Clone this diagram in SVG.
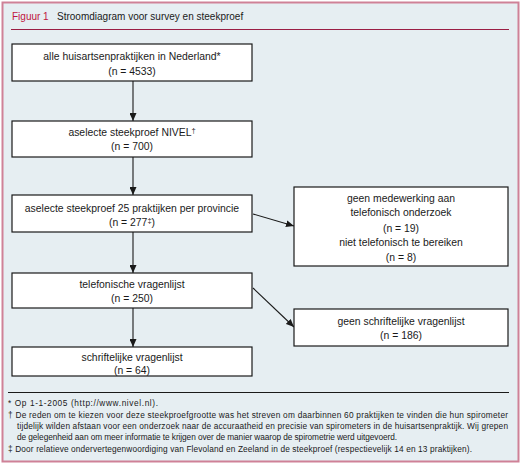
<svg xmlns="http://www.w3.org/2000/svg" width="522" height="465" viewBox="0 0 522 465">
<style>
.bx{fill:#ffffff;stroke:#1a1a1a;stroke-width:1.2}
.t{font-family:"Liberation Sans",Arial,sans-serif;font-size:10.4px;fill:#1a1a1a;text-anchor:middle}
.f{font-family:"Liberation Sans",Arial,sans-serif;font-size:8.3px;fill:#1a1a1a}
.h{font-family:"Liberation Sans",Arial,sans-serif;font-size:10px}
.c{stroke:#1a1a1a;stroke-width:1.1;fill:none}
</style>
<defs>
<marker id="ah" viewBox="0 0 10 10" refX="10" refY="5" markerWidth="8" markerHeight="7" markerUnits="userSpaceOnUse" orient="auto" preserveAspectRatio="none">
<path d="M0,0 L10,5 L0,10 z" fill="#1a1a1a"/>
</marker>
</defs>
<rect x="0" y="0" width="522" height="465" fill="#ffffff"/>
<rect x="2.5" y="2.5" width="516" height="459" fill="#e6eef2" stroke="#cf8197" stroke-width="2"/>
<g id="title">
<text class="h" x="12" y="20" fill="#c01540">Figuur 1</text>
<text class="h" x="57" y="20" fill="#1a1a1a">Stroomdiagram voor survey en steekproef</text>
<line x1="11" y1="29.5" x2="509" y2="29.5" stroke="#9a1e44" stroke-width="1"/>
</g>
<g id="connectors">
<line class="c" x1="133" y1="81" x2="133" y2="121" marker-end="url(#ah)"/>
<line class="c" x1="133" y1="157" x2="133" y2="195" marker-end="url(#ah)"/>
<line class="c" x1="133" y1="232" x2="133" y2="273" marker-end="url(#ah)"/>
<line class="c" x1="133" y1="308" x2="133" y2="347" marker-end="url(#ah)"/>
<line class="c" x1="253" y1="214" x2="294" y2="226" marker-end="url(#ah)"/>
<line class="c" x1="253" y1="288" x2="294" y2="327" marker-end="url(#ah)"/>
</g>
<g id="n1">
<rect class="bx" x="12" y="44" width="240" height="37"/>
<text class="t" x="132" y="60">alle huisartsenpraktijken in Nederland*</text>
<text class="t" x="132" y="75">(n = 4533)</text>
</g>
<g id="n2">
<rect class="bx" x="12" y="121" width="240" height="36"/>
<text class="t" x="132" y="136">aselecte steekproef NIVEL<tspan dy="-3.5" font-size="7.5">†</tspan></text>
<text class="t" x="132" y="150">(n = 700)</text>
</g>
<g id="n3">
<rect class="bx" x="12" y="195" width="240" height="37"/>
<text class="t" x="132" y="211.5">aselecte steekproef 25 praktijken per provincie</text>
<text class="t" x="132" y="226">(n = 277<tspan dy="-3.5" font-size="7.5">‡</tspan><tspan dy="3.5">)</tspan></text>
</g>
<g id="n4">
<rect class="bx" x="12" y="273" width="240" height="35"/>
<text class="t" x="132" y="287.5">telefonische vragenlijst</text>
<text class="t" x="132" y="302">(n = 250)</text>
</g>
<g id="n5">
<rect class="bx" x="12" y="347" width="240" height="29"/>
<text class="t" x="132" y="361">schriftelijke vragenlijst</text>
<text class="t" x="132" y="374">(n = 64)</text>
</g>
<g id="n6">
<rect class="bx" x="294" y="187" width="214" height="79"/>
<text class="t" x="401" y="202">geen medewerking aan</text>
<text class="t" x="401" y="216">telefonisch onderzoek</text>
<text class="t" x="401" y="231.5">(n = 19)</text>
<text class="t" x="401" y="246">niet telefonisch te bereiken</text>
<text class="t" x="401" y="260.5">(n = 8)</text>
</g>
<g id="n7">
<rect class="bx" x="294" y="309" width="214" height="37"/>
<text class="t" x="401" y="325">geen schriftelijke vragenlijst</text>
<text class="t" x="401" y="339">(n = 186)</text>
</g>
<g id="footnotes">
<line x1="8" y1="392.5" x2="509" y2="392.5" stroke="#1a1a1a" stroke-width="1"/>
<text class="f" x="8" y="406" textLength="150" lengthAdjust="spacing">* Op 1-1-2005 (http://www.nivel.nl).</text>
<text class="f" x="8" y="418" textLength="500" lengthAdjust="spacing">† De reden om te kiezen voor deze steekproefgrootte was het streven om daarbinnen 60 praktijken te vinden die hun spirometer</text>
<text class="f" x="17" y="429" textLength="491" lengthAdjust="spacing">tijdelijk wilden afstaan voor een onderzoek naar de accuraatheid en precisie van spirometers in de huisartsenpraktijk. Wij grepen</text>
<text class="f" x="17" y="440" textLength="380" lengthAdjust="spacing">de gelegenheid aan om meer informatie te krijgen over de manier waarop de spirometrie werd uitgevoerd.</text>
<text class="f" x="8" y="452" textLength="464" lengthAdjust="spacing">‡ Door relatieve ondervertegenwoordiging van Flevoland en Zeeland in de steekproef (respectievelijk 14 en 13 praktijken).</text>
</g>
</svg>
